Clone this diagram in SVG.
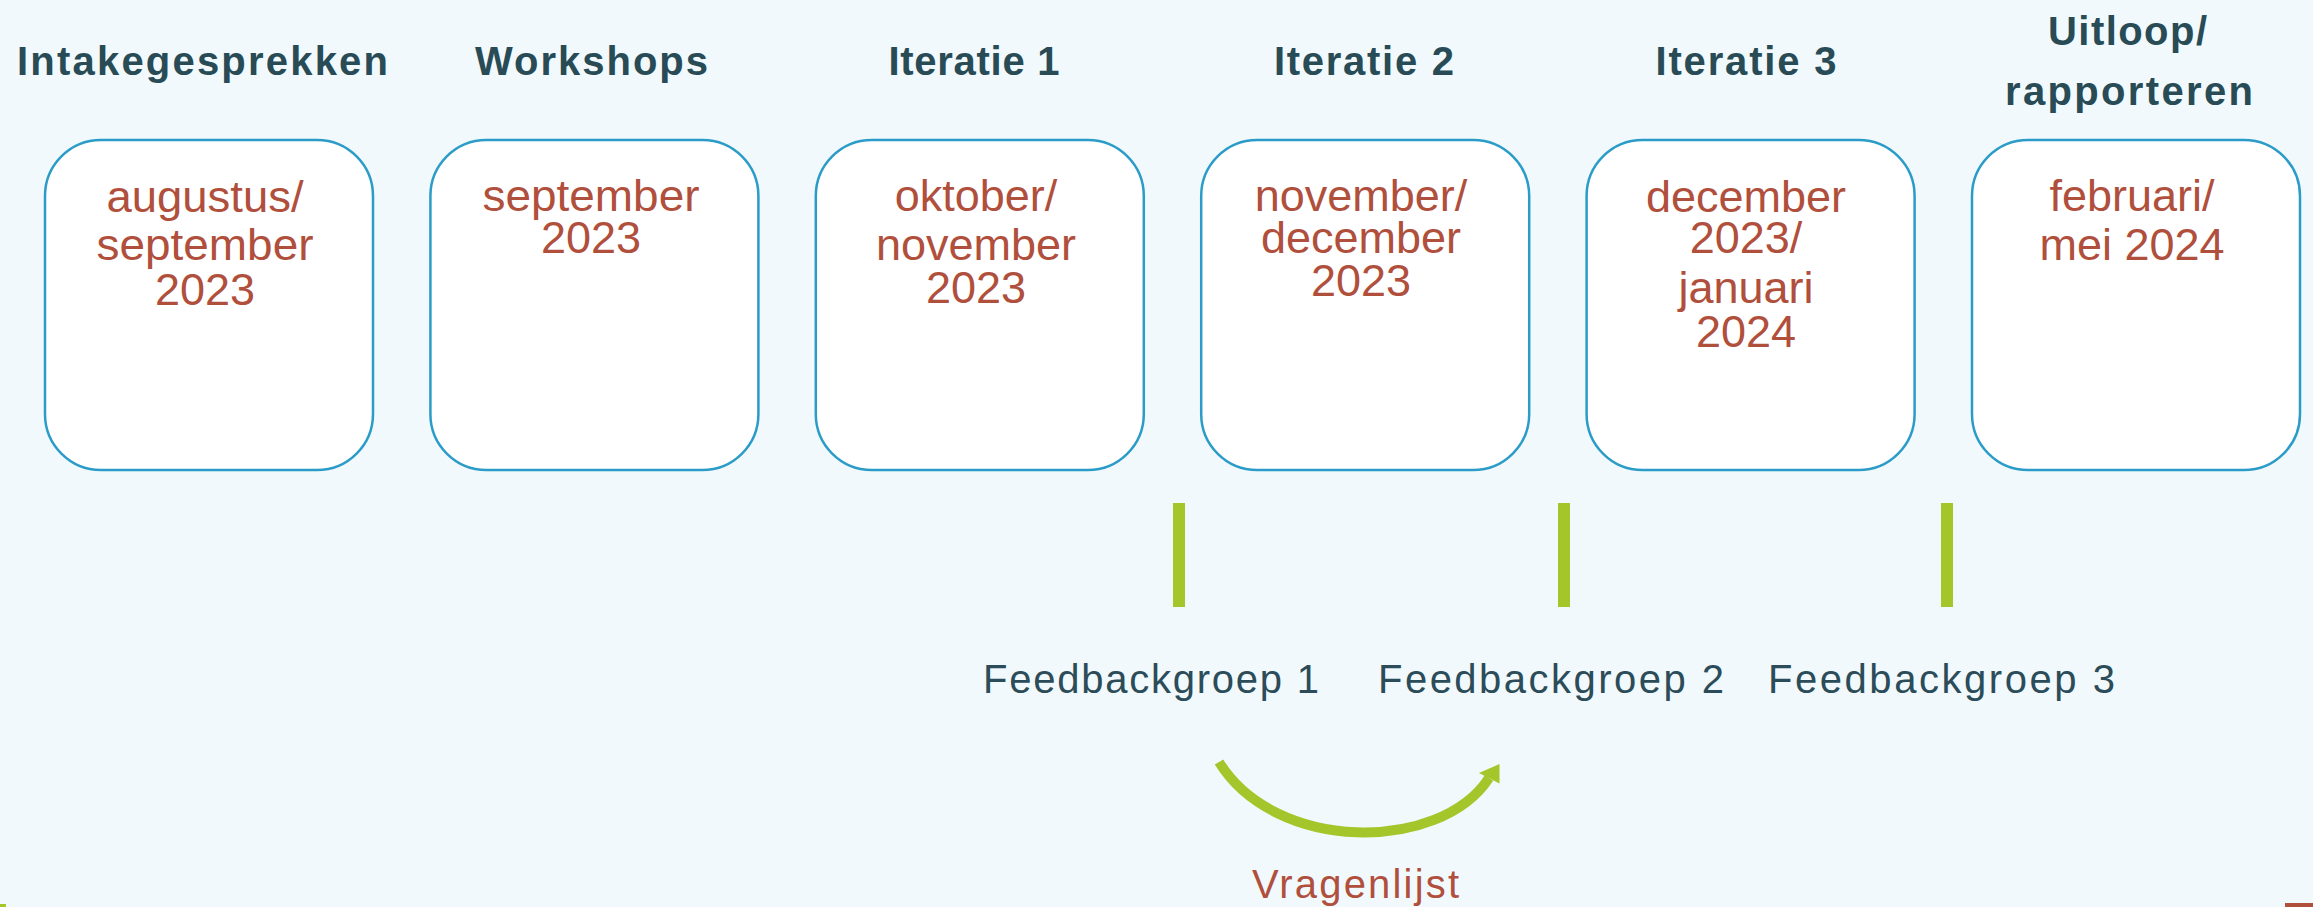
<svg xmlns="http://www.w3.org/2000/svg" width="2313" height="907" viewBox="0 0 2313 907">
<style>
.bg{fill:#f1f9fc}
.box{fill:#ffffff;stroke:#2b9cc8;stroke-width:2.5}
.title{font-family:"Liberation Sans",Arial,sans-serif;font-weight:bold;font-size:40px;fill:#284b56;text-anchor:middle}
.date{font-family:"Liberation Sans",Arial,sans-serif;font-size:45px;fill:#b04f3c;text-anchor:middle}
.fb{font-family:"Liberation Sans",Arial,sans-serif;font-size:40px;fill:#2b4c58}
.vr{font-family:"Liberation Sans",Arial,sans-serif;font-size:40px;fill:#b04f3c}
.bar{fill:#a5c62b}
.arc{fill:none;stroke:#a5c62b;stroke-width:10}
</style>
<rect class="bg" x="0" y="0" width="2313" height="907"/>

<g id="node-intake">
<text class="title" x="202.5" y="75" textLength="371" lengthAdjust="spacing">Intakegesprekken</text>
<rect class="box" x="45" y="140" width="328" height="330" rx="56" ry="56"/>
<text class="date" x="205" y="212" textLength="197" lengthAdjust="spacingAndGlyphs">augustus/</text>
<text class="date" x="205" y="260" textLength="217" lengthAdjust="spacingAndGlyphs">september</text>
<text class="date" x="205" y="305">2023</text>
</g>

<g id="node-workshops">
<text class="title" x="591.5" y="75" textLength="233" lengthAdjust="spacing">Workshops</text>
<rect class="box" x="430.4" y="140" width="328" height="330" rx="56" ry="56"/>
<text class="date" x="591" y="211" textLength="217" lengthAdjust="spacingAndGlyphs">september</text>
<text class="date" x="591" y="253">2023</text>
</g>

<g id="node-iteratie1">
<text class="title" x="974" y="75" textLength="171" lengthAdjust="spacing">Iteratie 1</text>
<rect class="box" x="815.8" y="140" width="328" height="330" rx="56" ry="56"/>
<text class="date" x="976" y="211">oktober/</text>
<text class="date" x="976" y="260">november</text>
<text class="date" x="976" y="303">2023</text>
</g>

<g id="node-iteratie2">
<text class="title" x="1364" y="75" textLength="180" lengthAdjust="spacing">Iteratie 2</text>
<rect class="box" x="1201.2" y="140" width="328" height="330" rx="56" ry="56"/>
<text class="date" x="1361" y="211">november/</text>
<text class="date" x="1361" y="253">december</text>
<text class="date" x="1361" y="296">2023</text>
</g>

<g id="node-iteratie3">
<text class="title" x="1746" y="75" textLength="181" lengthAdjust="spacing">Iteratie 3</text>
<rect class="box" x="1586.6" y="140" width="328" height="330" rx="56" ry="56"/>
<text class="date" x="1746" y="212">december</text>
<text class="date" x="1746" y="253">2023/</text>
<text class="date" x="1746" y="303">januari</text>
<text class="date" x="1746" y="347">2024</text>
</g>

<g id="node-uitloop">
<text class="title" x="2127.5" y="45" textLength="159" lengthAdjust="spacing">Uitloop/</text>
<text class="title" x="2129" y="105" textLength="248" lengthAdjust="spacing">rapporteren</text>
<rect class="box" x="1972" y="140" width="328" height="330" rx="56" ry="56"/>
<text class="date" x="2132" y="211">februari/</text>
<text class="date" x="2132" y="260">mei 2024</text>
</g>

<g id="node-feedback1">
<rect class="bar" x="1173" y="503" width="12" height="104"/>
<text class="fb" x="983" y="693" textLength="336" lengthAdjust="spacing">Feedbackgroep 1</text>
</g>
<g id="node-feedback2">
<rect class="bar" x="1558" y="503" width="12" height="104"/>
<text class="fb" x="1378" y="693" textLength="346" lengthAdjust="spacing">Feedbackgroep 2</text>
</g>
<g id="node-feedback3">
<rect class="bar" x="1941" y="503" width="12" height="104"/>
<text class="fb" x="1768" y="693" textLength="347" lengthAdjust="spacing">Feedbackgroep 3</text>
</g>

<g id="connectors">
<path class="arc" d="M 1219 762 C 1275 853, 1440 853, 1489 778"/>
<polygon fill="#a5c62b" points="1499.5,764 1479,773 1499.5,783.5"/>
</g>

<g id="node-vragenlijst">
<text class="vr" x="1252" y="898" textLength="207" lengthAdjust="spacing">Vragenlijst</text>
</g>

<rect fill="#a5c62b" x="0" y="904" width="6" height="3"/>
<rect fill="#b04f3c" x="2285" y="903" width="28" height="4"/>
</svg>
